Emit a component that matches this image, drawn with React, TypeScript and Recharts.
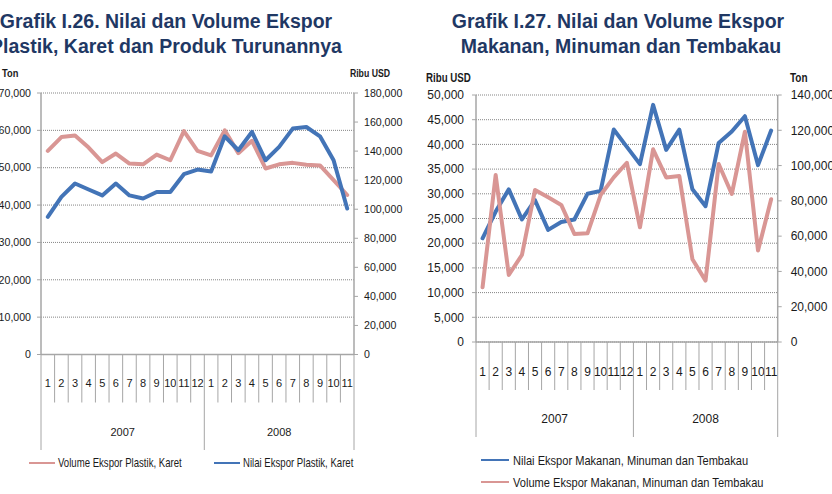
import type { ReactElement, ReactNode } from "react";
import { CartesianGrid, Line, LineChart, XAxis, YAxis } from "recharts";

const months = ["1", "2", "3", "4", "5", "6", "7", "8", "9", "10", "11", "12", "1", "2", "3", "4", "5", "6", "7", "8", "9", "10", "11"];
const years = [
	{ label: "2007", count: 12 },
	{ label: "2008", count: 11 },
];

// Grafik I.26 – plastik, karet (Ton on the left axis, Ribu USD on the right)
const volumePlastik = [54500, 58200, 58600, 55400, 51500, 53800, 51100, 50900, 53500, 52000, 59800, 54500, 53300, 60000, 53900, 57200, 49800, 50900, 51300, 50800, 50600, 46700, 42700];
const nilaiPlastik = [94800, 108500, 117700, 113600, 109500, 117700, 109500, 107400, 111900, 111900, 124100, 127300, 126000, 150200, 140600, 153200, 133700, 142900, 155500, 156600, 150200, 133700, 100500];
const tonTicksPlastik = [0, 10000, 20000, 30000, 40000, 50000, 60000, 70000];
const usdTicksPlastik = [0, 20000, 40000, 60000, 80000, 100000, 120000, 140000, 160000, 180000];

// Grafik I.27 – makanan, minuman, tembakau (Ribu USD on the left axis, Ton on the right)
const nilaiMakanan = [21000, 26400, 30900, 24800, 28700, 22700, 24300, 24800, 30000, 30600, 43000, 39500, 36000, 48000, 38900, 43000, 30900, 27500, 40300, 42600, 45700, 35800, 42800];
const volumeMakanan = [31000, 94700, 38000, 49300, 86200, 82000, 77700, 61200, 61600, 83300, 93300, 101600, 65000, 109200, 93300, 94100, 46900, 34800, 100900, 83900, 119200, 51800, 80900];
const usdTicksMakanan = [0, 5000, 10000, 15000, 20000, 25000, 30000, 35000, 40000, 45000, 50000];
const tonTicksMakanan = [0, 20000, 40000, 60000, 80000, 100000, 120000, 140000];

const PINK = "#D99694";
const BLUE = "#4374B7";
const AXIS = "#a6a6a6";
const GRID = "#858585";
const TEXT = "#1a1a1a";
const NAVY = "#1F3864";
const SANS = "'Liberation Sans', Arial, sans-serif";

const fmt = (v: number) => v.toLocaleString("en-US");

const yearStarts = years.map((_, g) => years.slice(0, g).reduce((s, p) => s + p.count, 0));

type TickCfg = {
	band: number;
	shortLen: number;
	longLen: number;
	monthDy: number;
	yearDy: number;
	fontSize: number;
};

// two-level category axis: month numbers in boxes, years below
function monthTick(cfg: TickCfg) {
	return (props: any): ReactElement => {
		const { x, y, payload } = props;
		const i = Number(payload.value);
		const g = yearStarts.indexOf(i);
		const left = x - cfg.band / 2;
		const right = x + cfg.band / 2;
		const isLast = i === months.length - 1;
		return (
			<g>
				<line x1={left} y1={y} x2={left} y2={y + (g >= 0 ? cfg.longLen : cfg.shortLen)} stroke={AXIS} strokeWidth={1} />
				{isLast && <line x1={right} y1={y} x2={right} y2={y + cfg.longLen} stroke={AXIS} strokeWidth={1} />}
				<text x={x} y={y + cfg.monthDy} textAnchor="middle" dominantBaseline="central" fontSize={cfg.fontSize} fontFamily={SANS} fill={TEXT}>
					{months[i]}
				</text>
				{g >= 0 && (
					<text
						x={left + (years[g].count * cfg.band) / 2}
						y={y + cfg.yearDy}
						textAnchor="middle"
						dominantBaseline="central"
						fontSize={cfg.fontSize}
						fontFamily={SANS}
						fill={TEXT}
					>
						{years[g].label}
					</text>
				)}
			</g>
		);
	};
}

type Series = { key: string; values: number[]; color: string; axis: "left" | "right" };

type PanelProps = {
	x: number;
	series: Series[];
	leftTicks: number[];
	rightTicks: number[];
	margin: { top: number; right: number; bottom: number; left: number };
	leftWidth: number;
	rightWidth: number;
	xHeight: number;
	fontSize: number;
	monthFont: number;
	tickMargin: [number, number];
	axisDy: Omit<TickCfg, "band" | "fontSize">;
};

const W = 416;
const H = 494;

function Panel(p: PanelProps) {
	const data = months.map((_, i) => {
		const row: Record<string, number> = { idx: i };
		p.series.forEach((s) => (row[s.key] = s.values[i]));
		return row;
	});
	const plotW = W - p.margin.left - p.margin.right - p.leftWidth - p.rightWidth;
	const band = plotW / months.length;
	const tickStyle = { fill: TEXT, fontSize: p.fontSize, fontFamily: SANS };
	return (
		<div style={{ position: "absolute", left: p.x, top: 0 }}>
			<LineChart width={W} height={H} data={data} margin={p.margin}>
				<CartesianGrid yAxisId="left" vertical={false} stroke={GRID} strokeDasharray="1 1" />
				<XAxis
					dataKey="idx"
					type="category"
					scale="band"
					interval={0}
					height={p.xHeight}
					tickSize={0}
					tickMargin={0}
					tickLine={false}
					axisLine={{ stroke: AXIS, strokeWidth: 1.5 }}
					tick={monthTick({ band, fontSize: p.monthFont, ...p.axisDy })}
				/>
				<YAxis
					yAxisId="left"
					orientation="left"
					width={p.leftWidth}
					domain={[0, p.leftTicks[p.leftTicks.length - 1]]}
					ticks={p.leftTicks}
					interval={0}
					tickFormatter={fmt}
					tickSize={4}
					tickMargin={p.tickMargin[0]}
					axisLine={{ stroke: AXIS, strokeWidth: 1.5 }}
					tickLine={{ stroke: AXIS }}
					tick={tickStyle}
				/>
				<YAxis
					yAxisId="right"
					orientation="right"
					width={p.rightWidth}
					domain={[0, p.rightTicks[p.rightTicks.length - 1]]}
					ticks={p.rightTicks}
					interval={0}
					tickFormatter={fmt}
					tickSize={4}
					tickMargin={p.tickMargin[1]}
					axisLine={{ stroke: AXIS, strokeWidth: 1.5 }}
					tickLine={{ stroke: AXIS }}
					tick={tickStyle}
				/>
				{p.series.map((s) => (
					<Line
						key={s.key}
						yAxisId={s.axis}
						dataKey={s.key}
						stroke={s.color}
						strokeWidth={4}
						strokeLinejoin="round"
						strokeLinecap="round"
						dot={false}
						activeDot={false}
						isAnimationActive={false}
					/>
				))}
			</LineChart>
		</div>
	);
}

// narrow label text: regular sans squeezed horizontally around its anchor
function Narrow(props: {
	x: number;
	y: number;
	size: number;
	sx: number;
	bold?: boolean;
	anchor?: "start" | "end";
	children: ReactNode;
}) {
	return (
		<text
			transform={`translate(${props.x},${props.y}) scale(${props.sx},1)`}
			textAnchor={props.anchor ?? "start"}
			fontFamily={SANS}
			fontSize={props.size}
			fontWeight={props.bold ? "bold" : "normal"}
			fill={TEXT}
		>
			{props.children}
		</text>
	);
}

const legendPlastik = [
	{ name: "Volume Ekspor Plastik, Karet", color: PINK, x: 29, y: 463 },
	{ name: "Nilai Ekspor Plastik, Karet", color: BLUE, x: 214, y: 463 },
];
const legendMakanan = [
	{ name: "Nilai Ekspor Makanan, Minuman dan Tembakau", color: BLUE, x: 481, y: 460 },
	{ name: "Volume Ekspor Makanan, Minuman dan Tembakau", color: PINK, x: 481, y: 482 },
];

export default function App() {
	return (
		<div style={{ position: "absolute", left: 0, top: 0, width: 832, height: 494, background: "#fff", overflow: "hidden" }}>
			<Panel
				x={0}
				series={[
					{ key: "volume", values: volumePlastik, color: PINK, axis: "left" },
					{ key: "nilai", values: nilaiPlastik, color: BLUE, axis: "right" },
				]}
				leftTicks={tonTicksPlastik}
				rightTicks={usdTicksPlastik}
				margin={{ top: 93, right: 8, bottom: 43.5, left: 0 }}
				leftWidth={41}
				rightWidth={54}
				xHeight={96}
				fontSize={10.6}
				monthFont={11}
				tickMargin={[6, 6]}
				axisDy={{ shortLen: 48, longLen: 95.5, monthDy: 28.5, yearDy: 77.5 }}
			/>
			<Panel
				x={416}
				series={[
					{ key: "nilai", values: nilaiMakanan, color: BLUE, axis: "left" },
					{ key: "volume", values: volumeMakanan, color: PINK, axis: "right" },
				]}
				leftTicks={usdTicksMakanan}
				rightTicks={tonTicksMakanan}
				margin={{ top: 95, right: 4.3, bottom: 57, left: 4 }}
				leftWidth={56}
				rightWidth={50}
				xHeight={95}
				fontSize={12}
				monthFont={12}
				tickMargin={[8, 9]}
				axisDy={{ shortLen: 48, longLen: 95, monthDy: 29.7, yearDy: 77 }}
			/>
			<svg width={832} height={494} style={{ position: "absolute", left: 0, top: 0, pointerEvents: "none" }}>
				<g fontFamily={SANS} fontWeight="bold" fontSize={19.5} fill={NAVY} textAnchor="middle">
					<text x={166} y={27.5}>Grafik I.26. Nilai dan Volume Ekspor</text>
					<text x={166} y={52.5}>Plastik, Karet dan Produk Turunannya</text>
					<text x={618} y={28}>Grafik I.27. Nilai dan Volume Ekspor</text>
					<text x={621} y={52.5}>Makanan, Minuman dan Tembakau</text>
				</g>
				<Narrow x={2} y={77} size={11.6} sx={0.8} bold>Ton</Narrow>
				<Narrow x={390} y={77} size={11.6} sx={0.75} bold anchor="end">Ribu USD</Narrow>
				<Narrow x={426} y={81.7} size={12.5} sx={0.78} bold>Ribu USD</Narrow>
				<Narrow x={790} y={81.7} size={12.5} sx={0.8} bold>Ton</Narrow>
				{legendPlastik.map((l) => (
					<g key={l.name}>
						<line x1={l.x} y1={l.y} x2={l.x + 26} y2={l.y} stroke={l.color} strokeWidth={2} />
						<Narrow x={l.x + 29} y={l.y + 4.2} size={12} sx={0.8}>{l.name}</Narrow>
					</g>
				))}
				{legendMakanan.map((l) => (
					<g key={l.name}>
						<line x1={l.x} y1={l.y} x2={l.x + 28} y2={l.y} stroke={l.color} strokeWidth={2} />
						<Narrow x={l.x + 32} y={l.y + 4.5} size={12.6} sx={0.88}>{l.name}</Narrow>
					</g>
				))}
			</svg>
		</div>
	);
}
